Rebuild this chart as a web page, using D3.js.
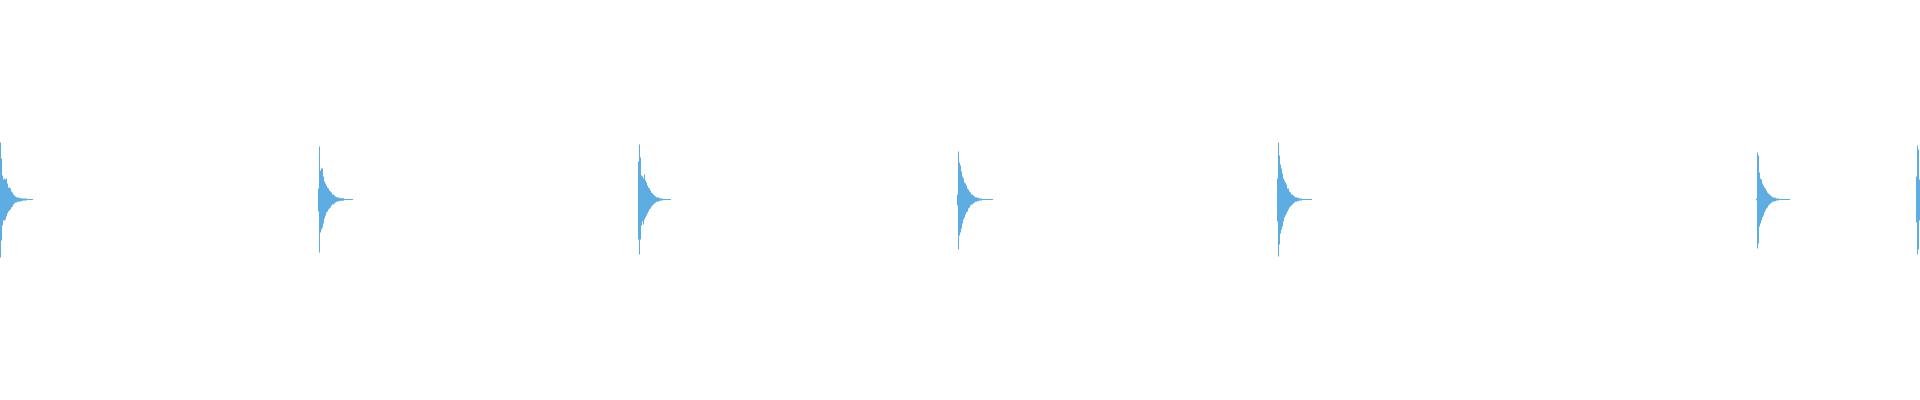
<!DOCTYPE html>
<html>
<head>
<meta charset="utf-8">
<title>Waveform</title>
<script src="https://cdn.jsdelivr.net/npm/d3@7"></script>
<style>
    body { margin: 0; background: #fff; overflow: hidden; }
</style>
</head>
<body>
<div id="chart"></div>
<script>
// Onset of each hit, in sample columns
var onsets = [0, 318, 638, 957, 1277, 1756, 1916];

// Peak amplitude per column (% of full scale), above and below the centre line
var hit1Top = [57,41,24,20,21,20,21,16,12,12, 11,8,7,5,4,3,2.3,2.3,1.7,1.7, 1.3,1.3,1,1,1,1,1,.5,.5,.5, .5,.5,.5];
var hit1Bot = [58,41,26,21,21,20,17,14,12,11, 10,8,7,5,4,3,3,2.3,2.3,2.3, 1.7,1.7,1.3,1,1,1,1,.5,.5,.5, .5,.5,.5];

var hit2Top = [11,53,29,31,31,23,18,16,14,12, 11,9,8,7,5,5,4,3,2.3,2.3, 1.7,1.7,1.2,1.2,1.2,1.2,.5,.5,.5,.5, .5,.5,.5,.5,.5];
var hit2Bot = [12,53,33,30,28,24,19,16,13,12, 10,9,8,6,5,5,4,3,2.3,2.3, 1.7,1.7,1.2,1.2,1.2,1.2,.5,.5,.5,.5, .5,.5,.5,.5,.5];

var hit3Top = [38,55,42,24,23,21,25,19,17,14, 12,11,9,7,6,5,4,3.3,2.3,2.3, 1.7,1.7,1,1,1,.5,.5,.5,.5,.5, .5,.5,.5];
var hit3Bot = [40,55,40,26,22,25,20,18,16,14, 12,10,9,7,6,5,4,3.3,2.3,2.3, 1.7,1.7,1,1,1,.5,.5,.5,.5,.5, .5,.5,.5];

var hit4Top = [5,48,37,34,28,23,21,17,16,14, 11,10,8,7,5,5,4,3,2.3,2.3, 1.7,1.7,1,1,1,.5,.5,.5,.5,.5, .5,.5,.5,.5,.5,.5];
var hit4Bot = [6,50,36,33,29,24,20,18,15,13, 12,9,8,6,5,5,4,3,2.3,2.3, 1.7,1.7,1,1,1,.5,.5,.5,.5,.5, .5,.5,.5,.5,.5,.5];

var hit5Top = [21,57,44,35,31,26,21,19,17,15, 11,11,8,7,5,5,4,3,2.3,2.3, 1.7,1.7,1,1,1,.5,.5,.5,.5,.5, .5,.5,.5,.5,.5];
var hit5Bot = [22,57,45,34,30,27,22,18,16,14, 12,10,8,7,6,5,4,3,2.3,2.3, 1.7,1.7,1,1,1,.5,.5,.5,.5,.5, .5,.5,.5,.5,.5];

var hit6Top = [.7,47,44,27,21,20,16,14,12,11, 9,7,6,5,4,3.3,2.3,2.3,1.7,1.7, 1,1,1,.5,.5,.5,.5,.5,.5,.5, .5,.5,.5,.5];
var hit6Bot = [.7,49,44,27,24,21,18,16,13,11, 9,8,6,5,4,3.3,2.3,2.3,1.7,1.7, 1,1,1,.5,.5,.5,.5,.5,.5,.5, .5,.5,.5,.5];

var hit7Top = [23,54,50,20];
var hit7Bot = [23,55,50,21];

var tops = [hit1Top, hit2Top, hit3Top, hit4Top, hit5Top, hit6Top, hit7Top];
var bots = [hit1Bot, hit2Bot, hit3Bot, hit4Bot, hit5Bot, hit6Bot, hit7Bot];

var width = 1920,
    height = 400;

// One array of columns per hit; repeat the last column so the step closes
var hits = onsets.map(function (start, h) {
    var cols = tops[h].map(function (t, i) {
        return { col: start + i, top: t, bot: bots[h][i] };
    });
    var last = cols[cols.length - 1];
    cols.push({ col: last.col + 1, top: last.top, bot: last.bot });
    return cols;
});

var svg = d3.select("#chart").append("svg")
    .attr("width", width)
    .attr("height", height);

var x = d3.scaleLinear()
    .domain([0, 1920])
    .range([0, width]);

var y = d3.scaleLinear()
    .domain([-100, 100])
    .range([299.5, 99.5]);

var area = d3.area()
    .curve(d3.curveStepAfter)
    .x(function (d) { return x(d.col); })
    .y0(function (d) { return y(-d.bot); })
    .y1(function (d) { return y(d.top); });

svg.append("g")
    .attr("class", "wave")
    .selectAll("path")
    .data(hits)
    .enter().append("path")
    .attr("d", area)
    .attr("fill", "#5dade2");
</script>
</body>
</html>
